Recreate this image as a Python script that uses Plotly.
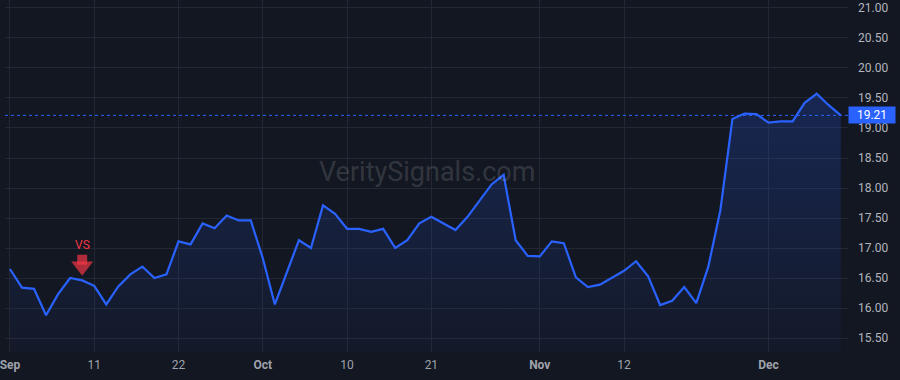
import pandas as pd
import plotly.graph_objects as go

# ---------------- data ----------------
holidays = ["2025-09-01", "2025-11-27"]
dates = [d.strftime("%Y-%m-%d") for d in pd.bdate_range("2025-09-02", "2025-12-09")
         if d.strftime("%Y-%m-%d") not in holidays]

values = [16.65, 16.34, 16.32, 15.88, 16.23, 16.50, 16.46, 16.37, 16.06, 16.36,
          16.56, 16.69, 16.50, 16.56, 17.11, 17.06, 17.41, 17.33, 17.54, 17.46,
          17.46, 16.83, 16.06, 16.60, 17.13, 17.00, 17.71, 17.57, 17.32, 17.32,
          17.27, 17.32, 17.00, 17.13, 17.41, 17.52, 17.41, 17.30, 17.52, 17.79,
          18.06, 18.22, 17.13, 16.87, 16.86, 17.11, 17.08, 16.51, 16.35, 16.39,
          16.51, 16.62, 16.78, 16.53, 16.05, 16.12, 16.35, 16.08, 16.69, 17.63,
          19.15, 19.24, 19.23, 19.09, 19.11, 19.11, 19.42, 19.57, 19.38, 19.21]

tick_dates = ["2025-09-02", "2025-09-11", "2025-09-22", "2025-10-01", "2025-10-10",
              "2025-10-21", "2025-11-03", "2025-11-12", "2025-12-01"]
tick_labels = ["Sep", "11", "22", "Oct", "10", "21", "Nov", "12", "Dec"]
month_labels = {"Sep", "Oct", "Nov", "Dec"}

y_ticks = [15.5, 16.0, 16.5, 17.0, 17.5, 18.0, 18.5, 19.0, 19.5, 20.0, 20.5, 21.0]

signal_date = "2025-09-10"
signal_text = "VS"
last_price = values[-1]
watermark = "VeritySignals.com"

# ---------------- style ----------------
BG = "#131722"
GRID = "#232733"
LINE = "#2962FF"
RED = "#F23645"
W, H = 900, 380
M = dict(l=0, r=52, t=0, b=28)
y_range = [15.267, 21.133]
x_range = [-0.41, 69.6]
plot_h = H - M["t"] - M["b"]
px_per_unit = plot_h / (y_range[1] - y_range[0])

fig = go.Figure()

fig.add_trace(go.Scatter(
    x=dates, y=values, mode="lines",
    line=dict(color=LINE, width=2.2),
    fill="tozeroy",
    fillgradient=dict(type="vertical",
                      colorscale=[[0, "rgba(41,98,255,0.03)"], [1, "rgba(41,98,255,0.22)"]],
                      start=y_range[0], stop=max(values)),
    hoverinfo="skip",
))

# signal arrow (shaft + head), offsets in pixels above the point
sig_val = values[dates.index(signal_date)]
shaft_y = sig_val + 20.7 / px_per_unit
head_y = sig_val + 14.1 / px_per_unit
fig.add_trace(go.Scatter(
    x=[signal_date, signal_date], y=[shaft_y, head_y], mode="markers",
    marker=dict(symbol=["square", "triangle-down"], size=[10, 19], color=RED,
                line=dict(width=0)),
    hoverinfo="skip",
))

ticktext = [f"<b>{t}</b>" if t in month_labels else t for t in tick_labels]

fig.update_layout(
    width=W, height=H, autosize=False, margin=M,
    paper_bgcolor=BG, plot_bgcolor=BG, showlegend=False,
    font=dict(family="Roboto, Arial, sans-serif", size=12, color="#b2b5be"),
    xaxis=dict(type="category", range=x_range, tickvals=tick_dates, ticktext=ticktext,
               showgrid=True, gridcolor=GRID, gridwidth=1, zeroline=False, showline=False,
               ticks="", tickfont=dict(color="#9fa2ab", size=12), ticklabelstandoff=4,
               fixedrange=True),
    yaxis=dict(side="right", range=y_range, tickvals=y_ticks,
               ticktext=[f"{v:.2f}" for v in y_ticks],
               showgrid=True, gridcolor=GRID, gridwidth=1, zeroline=False, showline=False,
               ticks="", tickfont=dict(color="#b2b5be", size=12), ticklabelstandoff=9,
               fixedrange=True),
)

# last price dotted line
fig.add_shape(type="line", xref="paper", x0=0, x1=1, yref="y", y0=last_price, y1=last_price,
              line=dict(color=LINE, width=1, dash="dot"))

# last price label
fig.add_annotation(xref="paper", x=1, xanchor="left", yref="y", y=last_price, yanchor="middle",
                   text=f"{last_price:.2f}", showarrow=False, bgcolor=LINE,
                   font=dict(color="#ffffff", size=12), width=46, height=16, borderpad=0,
                   align="center")

# watermark
fig.add_annotation(xref="paper", x=0.5, yref="paper", y=1 - 172 / plot_h,
                   text=watermark, showarrow=False,
                   font=dict(size=27, color="rgba(255,255,255,0.15)"))

# signal text
fig.add_annotation(x=signal_date, y=sig_val, yshift=35, text=signal_text, showarrow=False,
                   font=dict(size=12, color=RED))

fig.write_html("out.html")
